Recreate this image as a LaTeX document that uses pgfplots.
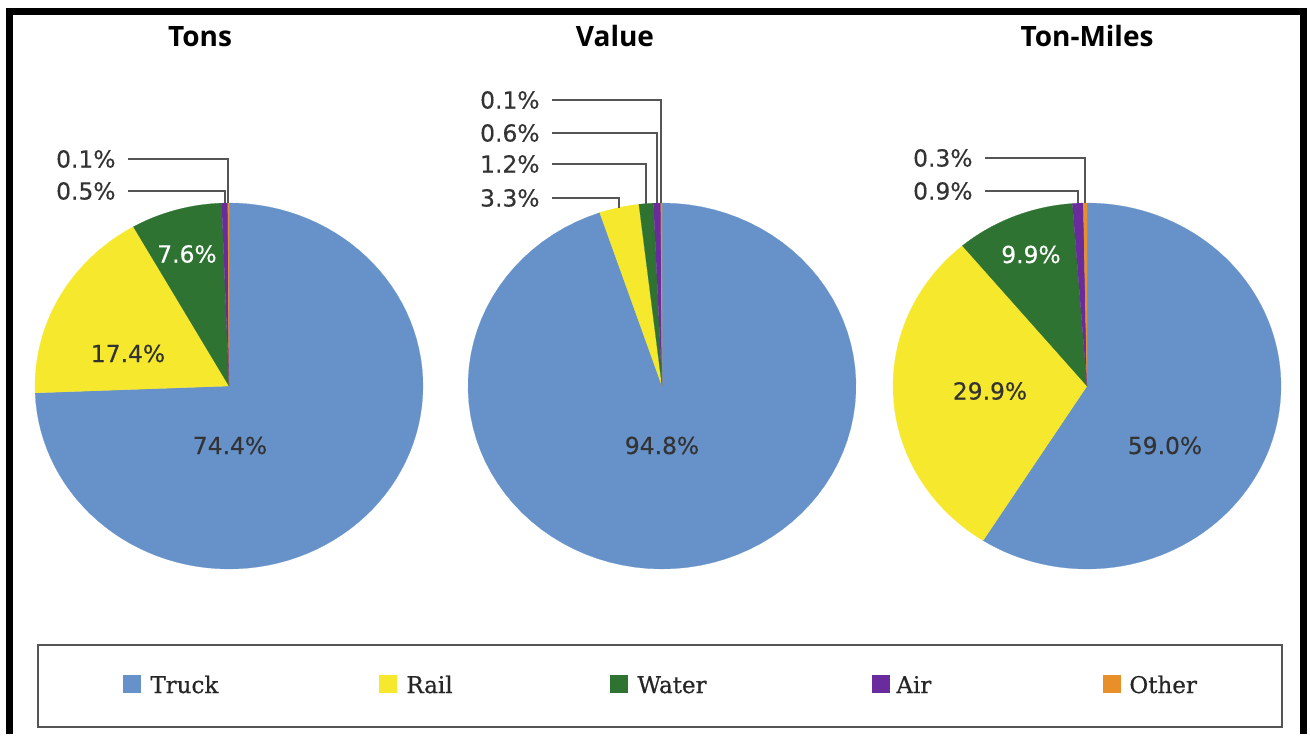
\documentclass[border=0pt]{standalone}
\usepackage{pgfplots}
\pgfplotsset{compat=1.18}
\usepackage{fontspec}
\setmainfont{DejaVu Serif}
\newfontfamily\legfont{DejaVu Serif}[FakeBold=0.6]
\newfontfamily\labfont{DejaVu Sans}[FakeBold=0.3]
\newfontfamily\titfont{Open Sans}
\definecolor{truck}{HTML}{6692C9}
\definecolor{rail}{HTML}{F6E82C}
\definecolor{water}{HTML}{2F7332}
\definecolor{air}{HTML}{6A2C9C}
\definecolor{other}{HTML}{E98F2A}
\definecolor{lead}{HTML}{555555}
\definecolor{lab}{HTML}{333333}
\definecolor{legtext}{HTML}{262626}

\def\piecx{229}
\gdef\cum{0}
% #1 percent, #2 colour  (slices run clockwise from 12 o'clock)
\newcommand\slice[2]{%
  \pgfmathsetmacro\newcum{\cum+#1}%
  \edef\doslice{\noexpand\addplot[fill=#2, draw=#2, line width=0.1bp, domain=\cum:\newcum, samples=90, forget plot]
    ({\piecx+194*cos(90-3.6*x)}, {386-183*sin(90-3.6*x)}) -- (\piecx,386) -- cycle;}%
  \doslice
  \global\let\cum\newcum}

\tikzset{
  pct/.style={font=\labfont\fontsize{11.7bp}{13bp}\selectfont, text=lab, inner sep=0pt},
  tit/.style={font=\titfont\bfseries\fontsize{14bp}{16bp}\selectfont, text=black, inner sep=0pt, anchor=base},
  leg/.style={font=\legfont\fontsize{11.5bp}{13bp}\selectfont, text=legtext, inner sep=0pt, anchor=base west},
}

\begin{document}
\begin{tikzpicture}
\begin{axis}[
  width=655bp, height=367bp, scale only axis,
  xmin=0, xmax=1310, ymin=0, ymax=734, y dir=reverse,
  hide axis, clip=false,
]
% full picture area
\path (0,0) rectangle (1310,734);
% ---------- Tons ----------
\def\piecx{229}\gdef\cum{0}
\slice{74.4}{truck}
\slice{17.4}{rail}
\slice{7.6}{water}
\slice{0.5}{air}
\slice{0.1}{other}
% ---------- Value ----------
\def\piecx{662}\gdef\cum{0}
\slice{94.8}{truck}
\slice{3.3}{rail}
\slice{1.2}{water}
\slice{0.6}{air}
\slice{0.1}{other}
% ---------- Ton-Miles ----------
\def\piecx{1087}\gdef\cum{0}
\slice{59.0}{truck}
\slice{29.9}{rail}
\slice{9.9}{water}
\slice{0.9}{air}
\slice{0.3}{other}

% leader lines
\addplot[lead, line width=1bp, forget plot] coordinates {(128,159) (228.4,159) (228.4,203)};
\addplot[lead, line width=1bp, forget plot] coordinates {(128,191) (224.7,191) (224.7,203.2)};
\addplot[lead, line width=1bp, forget plot] coordinates {(552,100) (661.4,100) (661.4,203)};
\addplot[lead, line width=1bp, forget plot] coordinates {(552,133) (657,133) (657,203.1)};
\addplot[lead, line width=1bp, forget plot] coordinates {(552,164) (646,164) (646,203.6)};
\addplot[lead, line width=1bp, forget plot] coordinates {(552,198) (619,198) (619,207.5)};
\addplot[lead, line width=1bp, forget plot] coordinates {(985,158) (1085.2,158) (1085.2,203)};
\addplot[lead, line width=1bp, forget plot] coordinates {(985,191) (1077.9,191) (1077.9,203.2)};

% outside labels
\node[pct, anchor=base east] at (116,167.5) {0.1\%};
\node[pct, anchor=base east] at (116,199.5) {0.5\%};
\node[pct, anchor=base east] at (540,108.5) {0.1\%};
\node[pct, anchor=base east] at (540,141.5) {0.6\%};
\node[pct, anchor=base east] at (540,172.5) {1.2\%};
\node[pct, anchor=base east] at (540,206.5) {3.3\%};
\node[pct, anchor=base east] at (973,166.5) {0.3\%};
\node[pct, anchor=base east] at (973,199.5) {0.9\%};

% inside labels
\node[pct, anchor=base] at (230,454) {74.4\%};
\node[pct, anchor=base] at (128,362) {17.4\%};
\node[pct, anchor=base, text=white] at (187,262.5) {7.6\%};
\node[pct, anchor=base] at (662,454) {94.8\%};
\node[pct, anchor=base] at (990,399.5) {29.9\%};
\node[pct, anchor=base, text=white] at (1031,263) {9.9\%};
\node[pct, anchor=base] at (1165,454) {59.0\%};

% titles
\node[tit] at (200,47) {Tons};
\node[tit] at (615,47) {Value};
\node[tit] at (1087,47) {Ton-Miles};

% legend
\draw[lead, line width=1bp] (38,645) rectangle (1282,727);
\fill[truck] (123,675) rectangle (141,693);
\node[leg] at (150,693) {Truck};
\fill[rail] (379,675) rectangle (397,693);
\node[leg] at (406,693) {Rail};
\fill[water] (610,675) rectangle (628,693);
\node[leg] at (637,693) {Water};
\fill[air] (872,675) rectangle (890,693);
\node[leg] at (896,693) {Air};
\fill[other] (1103,675) rectangle (1121,693);
\node[leg] at (1129,693) {Other};

% outer frame (open at the bottom)
\draw[black, line width=3.5bp, line join=miter] (9.5,734) -- (9.5,11.5) -- (1303,11.5) -- (1303,734);
\end{axis}
\end{tikzpicture}
\end{document}
